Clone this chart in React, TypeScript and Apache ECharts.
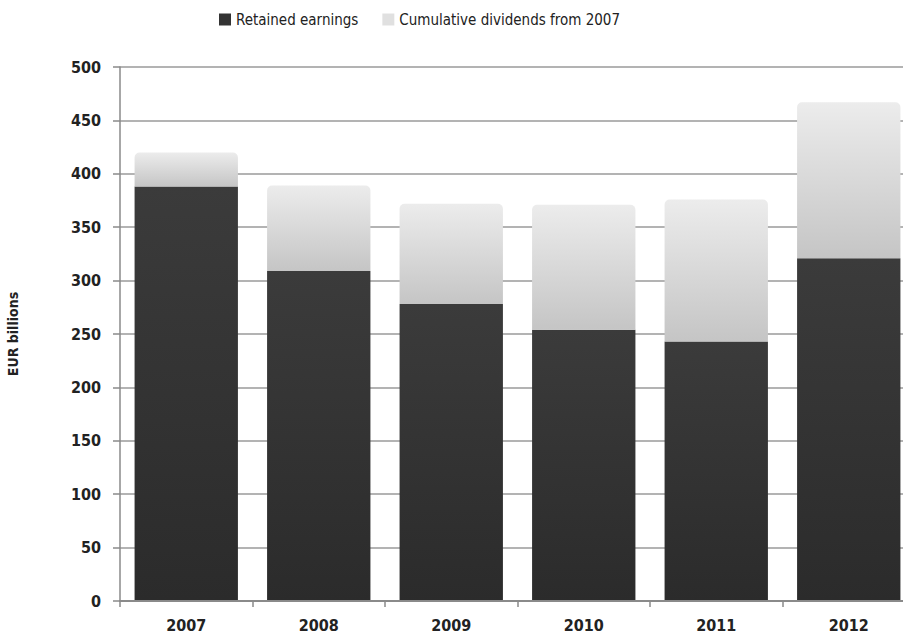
import React, { useEffect, useRef } from "react";
import * as echarts from "echarts";

const years = ["2007", "2008", "2009", "2010", "2011", "2012"];
const retainedEarnings = [388, 309, 278, 254, 243, 321];
const cumulativeDividends = [32, 80, 94, 117, 133, 146];
const yTicks = { min: 0, max: 500, interval: 50 };

const FONT = "'DejaVu Sans Condensed', 'Liberation Sans Narrow', sans-serif";

export default function App() {
  const ref = useRef<HTMLDivElement>(null);
  useEffect(() => {
    if (!ref.current) return;
    const chart = echarts.init(ref.current, undefined, { renderer: "svg" });
    chart.setOption({
      animation: false,
      backgroundColor: "#ffffff",
      textStyle: { fontFamily: FONT },
      legend: {
        left: 214,
        top: 7,
        icon: "rect",
        itemWidth: 12,
        itemHeight: 12,
        itemGap: 24,
        textStyle: { fontFamily: FONT, fontSize: 15, color: "#222", fontWeight: "normal" },
        data: [
          { name: "Retained earnings", itemStyle: { color: "#333" } },
          { name: "Cumulative dividends from 2007", itemStyle: { color: "#e0e0e0" } },
        ],
      },
      grid: {
        left: 120,
        top: 67,
        width: 795,
        height: 534,
        containLabel: false,
        outerBoundsMode: "none",
      },
      xAxis: {
        type: "category",
        data: years,
        axisLine: { show: true, lineStyle: { color: "#8a8a8a", width: 2 } },
        axisTick: { show: true, alignWithLabel: false, length: 6, lineStyle: { color: "#8a8a8a", width: 1.5 } },
        axisLabel: { fontFamily: FONT, fontSize: 16, color: "#222", fontWeight: "bold", margin: 16 },
        z: 5,
      },
      yAxis: {
        type: "value",
        min: yTicks.min,
        max: yTicks.max,
        interval: yTicks.interval,
        name: "EUR billions",
        nameLocation: "middle",
        nameGap: 100,
        nameRotate: 90,
        nameTextStyle: { fontFamily: FONT, fontSize: 14, color: "#222", fontWeight: "bold" },
        axisLine: { show: true, lineStyle: { color: "#8a8a8a", width: 1.5 } },
        axisTick: { show: true, length: 7, lineStyle: { color: "#8a8a8a", width: 1.5 } },
        axisLabel: { fontFamily: FONT, fontSize: 16, color: "#222", fontWeight: "bold", margin: 19 },
        splitLine: { show: true, lineStyle: { color: "#9a9a9a", width: 1.5 } },
      },
      series: [
        {
          name: "Retained earnings",
          type: "bar",
          stack: "total",
          data: retainedEarnings,
          barCategoryGap: "22%",
          itemStyle: {
            color: new echarts.graphic.LinearGradient(0, 0, 0, 1, [
              { offset: 0, color: "#3b3b3b" },
              { offset: 1, color: "#2b2b2b" },
            ]),
          },
        },
        {
          name: "Cumulative dividends from 2007",
          type: "bar",
          stack: "total",
          data: cumulativeDividends,
          barCategoryGap: "22%",
          itemStyle: {
            borderRadius: [5, 5, 0, 0],
            color: new echarts.graphic.LinearGradient(0, 0, 0, 1, [
              { offset: 0, color: "#ececec" },
              { offset: 1, color: "#c5c5c5" },
            ]),
          },
        },
      ],
    });
    return () => chart.dispose();
  }, []);
  return <div ref={ref} style={{ width: 903, height: 639, position: "absolute", left: 0, top: 0 }} />;
}
